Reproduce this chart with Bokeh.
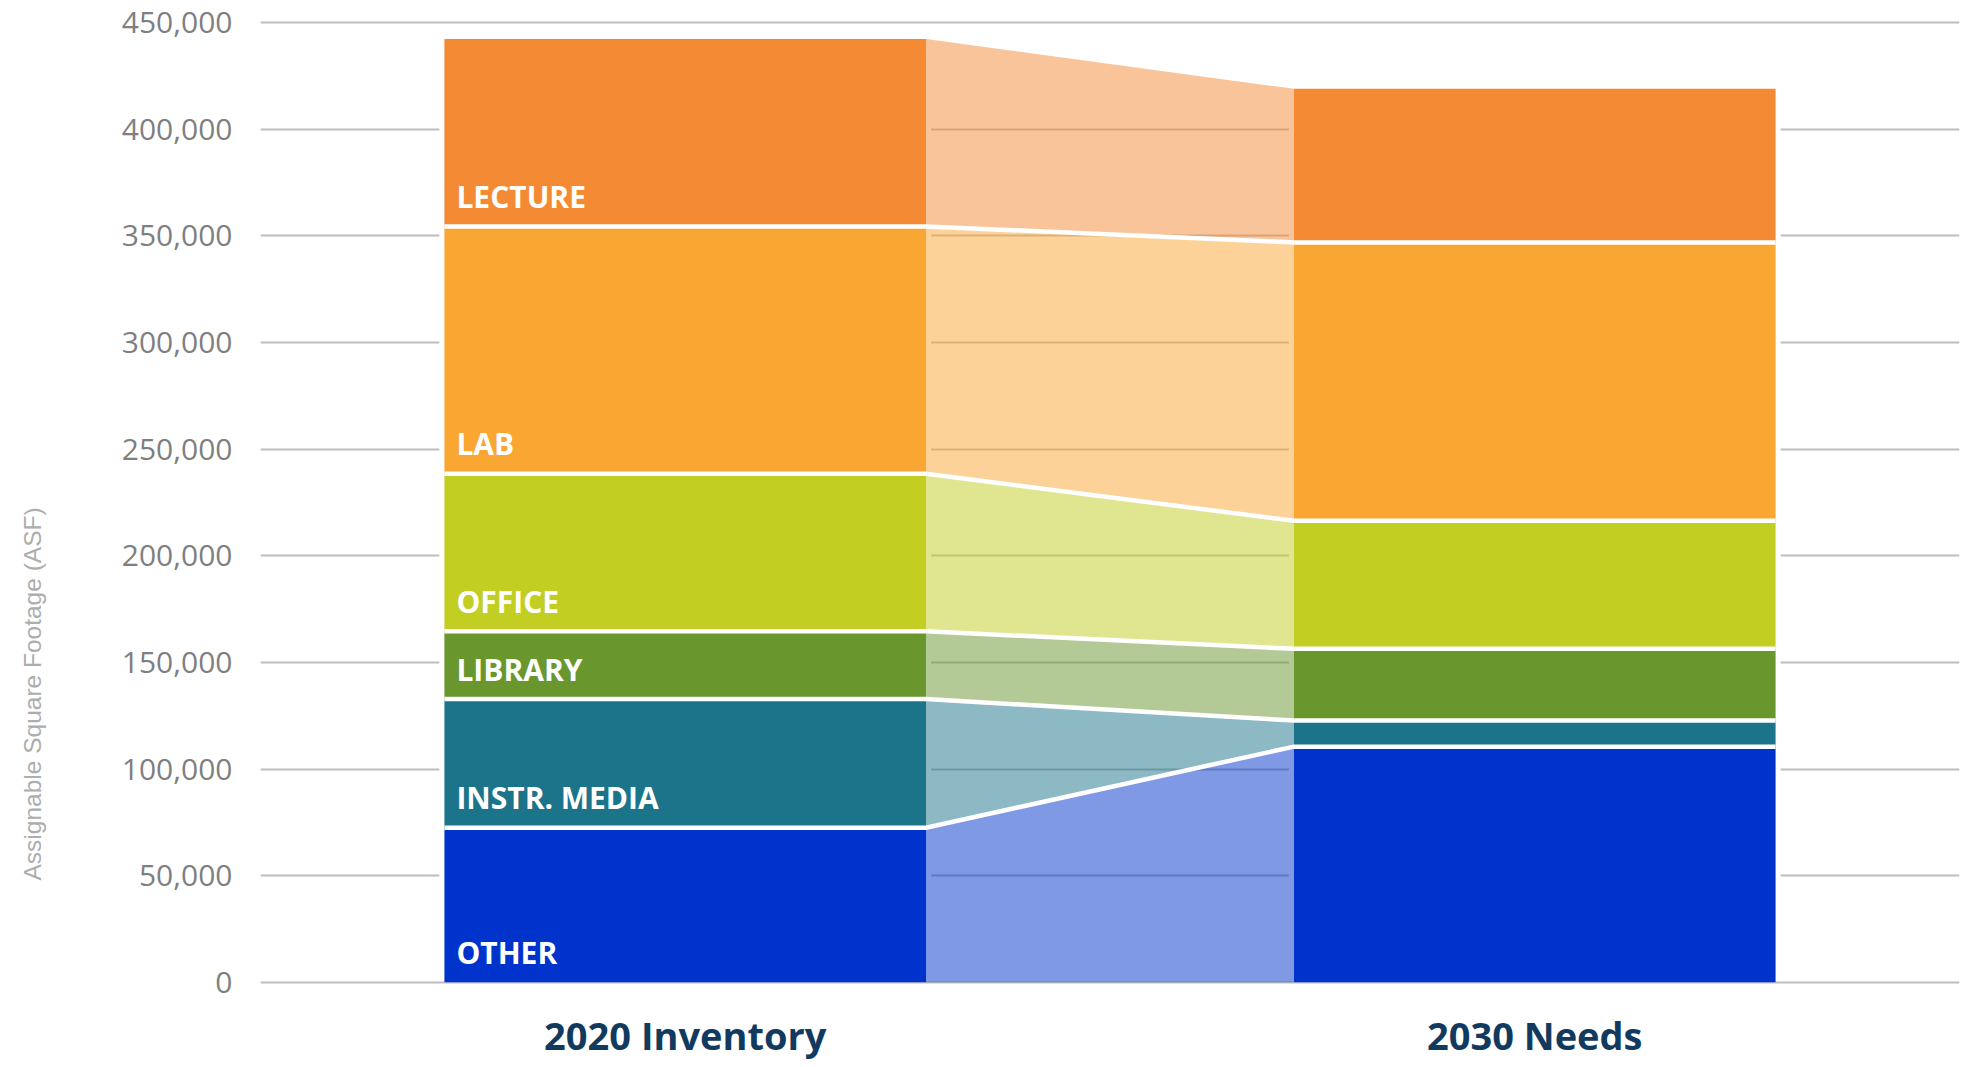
import numpy as np
from bokeh.plotting import figure
from bokeh.models import Range1d, FixedTicker, NumeralTickFormatter, ColumnDataSource, Title, LinearAxis
from bokeh.core.properties import value
from bokeh.embed import file_html
from bokeh.resources import INLINE

# ---------------- data ----------------
categories = ["OTHER", "INSTR. MEDIA", "LIBRARY", "OFFICE", "LAB", "LECTURE"]
inventory_2020 = [72500, 60300, 31800, 73900, 116000, 87900]
needs_2030 = [110500, 12200, 33700, 60000, 130600, 72000]
colors = ["#0033CC", "#1B7489", "#6A962E", "#C2CE22", "#F9A633", "#F48A34"]
columns = ["2020 Inventory", "2030 Needs"]
y_ticks = [0, 50000, 100000, 150000, 200000, 250000, 300000, 350000, 400000, 450000]
y_title = "Assignable Square Footage (ASF)"

# ---------------- layout ----------------
x_pos = [1, 2]
bar_w = 0.567
gap_pad = 0.006

top1 = np.cumsum(inventory_2020)
bot1 = top1 - np.array(inventory_2020)
top2 = np.cumsum(needs_2030)
bot2 = top2 - np.array(needs_2030)

l1, r1 = x_pos[0] - bar_w / 2, x_pos[0] + bar_w / 2
l2, r2 = x_pos[1] - bar_w / 2, x_pos[1] + bar_w / 2

p = figure(width=1972, height=1067, x_range=Range1d(0.5, 2.5), y_range=Range1d(-2000, 452000),
           output_backend="svg", toolbar_location=None,
           min_border_left=260, min_border_right=13, min_border_top=18, min_border_bottom=81)
p.outline_line_color = None
p.background_fill_color = "white"
p.border_fill_color = "white"

# grid
p.xgrid.visible = False
p.ygrid.grid_line_color = "#BDBDBD"
p.ygrid.grid_line_width = 2

# white margins around the bars (grid gaps)
p.quad(left=[l1 - gap_pad, l2 - gap_pad], right=[r1 + gap_pad, r2 + gap_pad],
       bottom=[1200, 1200], top=[top1[-1], top2[-1]], fill_color="white", line_color=None)

# connecting bands
band_xs = [[r1, l2, l2, r1] for _ in categories]
band_ys = [[bot1[i], bot2[i], top2[i], top1[i]] for i in range(len(categories))]
p.patches(xs=band_xs, ys=band_ys, fill_color=colors, fill_alpha=0.5, line_color=None)

# bars
bars = ColumnDataSource(dict(
    left=[l1] * len(categories) + [l2] * len(categories),
    right=[r1] * len(categories) + [r2] * len(categories),
    bottom=list(bot1) + list(bot2),
    top=list(top1) + list(top2),
    color=colors + colors,
))
p.quad(left="left", right="right", bottom="bottom", top="top", fill_color="color",
       line_color=None, source=bars)

# white separators
sep_xs = [[l1, r1, l2, r2] for i in range(len(categories) - 1)]
sep_ys = [[top1[i], top1[i], top2[i], top2[i]] for i in range(len(categories) - 1)]
p.multi_line(xs=sep_xs, ys=sep_ys, line_color="white", line_width=4.5, line_join="miter")

# category labels
p.text(x=[l1] * len(categories), y=list(bot1), text=categories, x_offset=12, y_offset=-30,
       text_align="left", text_baseline="middle", text_color="white",
       text_font=value("Open Sans"), text_font_style="bold", text_font_size="30px")

# axes
p.yaxis.ticker = FixedTicker(ticks=y_ticks)
p.yaxis.formatter = NumeralTickFormatter(format="0,0")
p.yaxis.axis_line_color = None
p.yaxis.major_tick_line_color = None
p.yaxis.minor_tick_line_color = None
p.yaxis.major_tick_out = 0
p.yaxis.major_tick_in = 0
p.yaxis.major_label_standoff = 28
p.yaxis.major_label_text_font = "Open Sans"
p.yaxis.major_label_text_font_size = "30px"
p.yaxis.major_label_text_color = "#7F7F7F"

# spacer axis (white tick, empty label) pushes the title outwards
spacer = LinearAxis(ticker=FixedTicker(ticks=[y_ticks[0]]), axis_line_color=None,
                    major_tick_line_color="white", minor_tick_line_color=None,
                    major_tick_out=68, major_tick_in=0, minor_tick_out=0, minor_tick_in=0,
                    major_label_standoff=0, major_label_overrides={y_ticks[0]: ""},
                    major_label_text_font_size="1px", major_label_text_color="white")
p.add_layout(spacer, "left")

p.add_layout(Title(text=y_title, align="left", offset=106,
                   text_font="Liberation Sans", text_font_style="normal",
                   text_font_size="24.5px", text_color="#ADADAD"), "left")

p.xaxis.ticker = FixedTicker(ticks=x_pos)
p.xaxis.major_label_overrides = {x_pos[0]: columns[0], x_pos[1]: columns[1]}
p.xaxis.axis_line_color = None
p.xaxis.major_tick_line_color = None
p.xaxis.minor_tick_line_color = None
p.xaxis.major_tick_out = 0
p.xaxis.major_tick_in = 0
p.xaxis.major_label_standoff = 22
p.xaxis.major_label_text_font = "Open Sans"
p.xaxis.major_label_text_font_style = "bold"
p.xaxis.major_label_text_font_size = "38px"
p.xaxis.major_label_text_color = "#123A5E"

open("out.html", "w").write(file_html(p, INLINE))
